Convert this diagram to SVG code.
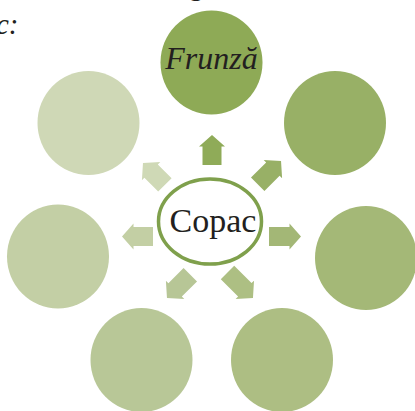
<svg xmlns="http://www.w3.org/2000/svg" width="415" height="411" viewBox="0 0 415 411">
  <style>
    .lbl { font-family: "Liberation Serif", "Times New Roman", serif; fill: #231f20; }
    .it { font-style: italic; }
    .circ { stroke: none; }
  </style>
  <defs>
    <path id="a30" d="M0,-9.5 L18.5,-9.5 L18.5,-13 L30,0 L18.5,13 L18.5,9.5 L0,9.5 Z"/>
    <path id="a31" d="M0,-9.5 L19.5,-9.5 L19.5,-13 L31,0 L19.5,13 L19.5,9.5 L0,9.5 Z"/>
    <path id="a32" d="M0,-9.5 L20.5,-9.5 L20.5,-13 L32,0 L20.5,13 L20.5,9.5 L0,9.5 Z"/>
    <path id="a33" d="M0,-9.5 L21.5,-9.5 L21.5,-13 L33,0 L21.5,13 L21.5,9.5 L0,9.5 Z"/>
    <path id="a36" d="M0,-9.5 L24.5,-9.5 L24.5,-13 L36,0 L24.5,13 L24.5,9.5 L0,9.5 Z"/>
  </defs>

  <text class="lbl it" x="-4" y="34" font-size="29">c:</text>
  <text class="lbl" x="189" y="-5.5" font-size="28">g</text>

  <g id="connectors">
    <use href="#a30" transform="translate(212,165) rotate(-90)" fill="#8fab58"/>
    <use href="#a33" transform="translate(257.7,184.3) rotate(-45)" fill="#98b066"/>
    <use href="#a32" transform="translate(269,236.5)" fill="#a3b776"/>
    <use href="#a36" transform="translate(227.5,272.5) rotate(45)" fill="#adbf83"/>
    <use href="#a33" transform="translate(190.3,274.7) rotate(135)" fill="#b7c696"/>
    <use href="#a31" transform="translate(153,236.5) rotate(180)" fill="#c3cfa4"/>
    <use href="#a31" transform="translate(164.9,184.9) rotate(-135)" fill="#cfd9b6"/>
  </g>

  <g id="node-frunza">
    <ellipse class="circ" cx="211.5" cy="62.5" rx="51" ry="52" fill="#8eaa56"/>
    <text class="lbl it" x="211.5" y="69" font-size="32" text-anchor="middle">Frunză</text>
  </g>
  <g id="node-top-right">
    <ellipse class="circ" cx="335" cy="123" rx="51" ry="52" fill="#98b066"/>
  </g>
  <g id="node-right">
    <ellipse class="circ" cx="366" cy="258" rx="51" ry="52" fill="#a4b877"/>
  </g>
  <g id="node-bottom-right">
    <ellipse class="circ" cx="282" cy="360" rx="51" ry="52" fill="#adbe83"/>
  </g>
  <g id="node-bottom-left">
    <ellipse class="circ" cx="141.5" cy="360" rx="51" ry="52" fill="#b8c797"/>
  </g>
  <g id="node-left">
    <ellipse class="circ" cx="58" cy="256.5" rx="51" ry="52" fill="#c3cfa5"/>
  </g>
  <g id="node-top-left">
    <ellipse class="circ" cx="88.5" cy="123" rx="51" ry="52" fill="#cfd8b6"/>
  </g>

  <g id="node-copac">
    <ellipse cx="210" cy="221.5" rx="51.5" ry="42.5" fill="#ffffff" stroke="#7fa04c" stroke-width="3.5"/>
    <text class="lbl" x="213" y="232" font-size="34" text-anchor="middle">Copac</text>
  </g>
</svg>
